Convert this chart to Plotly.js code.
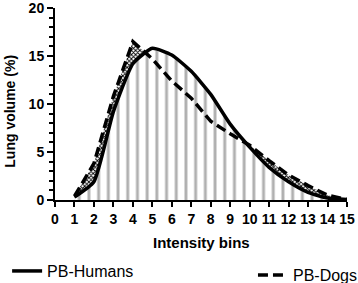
<!DOCTYPE html>
<html>
<head>
<meta charset="utf-8">
<script src="https://cdn.plot.ly/plotly-3.0.1.min.js"></script>
<style>html,body{margin:0;padding:0;background:#fff;}#chart{width:358px;height:283px;}</style>
</head>
<body>
<div id="chart"></div>
<script>
// Data
var bins = [1, 2, 3, 4, 5, 6, 7, 8, 9, 10, 11, 12, 13, 14, 15];
var humans = [0.3, 1.9, 9.2, 14.2, 15.8, 15.1, 13.4, 11.0, 7.9, 5.5, 3.4, 1.9, 0.8, 0.2, 0.05];
var dogs = [0.4, 3.8, 10.8, 16.5, 14.7, 12.4, 10.6, 8.2, 6.9, 5.7, 4.1, 2.6, 1.5, 0.5, 0.05];
var xTicks = [0, 1, 2, 3, 4, 5, 6, 7, 8, 9, 10, 11, 12, 13, 14, 15];
var yTicks = [0, 5, 10, 15, 20];
var seriesNames = ['PB-Humans', 'PB-Dogs'];

var FONT = 'Arial, "Liberation Sans", Helvetica, sans-serif';

var traces = [
  { x: bins, y: dogs, mode: 'none', fill: 'tozeroy', showlegend: false, hoverinfo: 'skip',
    fillcolor: 'white',
    fillpattern: { shape: 'x', size: 3, solidity: 0.5, fgcolor: '#000000', bgcolor: '#ffffff', fillmode: 'replace' } },
  { x: bins, y: humans, mode: 'none', fill: 'tozeroy', showlegend: false, hoverinfo: 'skip',
    fillcolor: 'white', line: { shape: 'spline', smoothing: 0.5 },
    fillpattern: { shape: '|', size: 9.7, solidity: 0.3, fgcolor: '#b0b0b0', bgcolor: '#ffffff', fillmode: 'replace' } },
  { x: bins, y: humans, mode: 'lines', name: seriesNames[0], legend: 'legend',
    line: { color: '#000000', width: 3.5, shape: 'spline', smoothing: 0.5 } },
  { x: bins, y: dogs, mode: 'lines', name: seriesNames[1], legend: 'legend2',
    line: { color: '#000000', width: 3.5, dash: '10px,5px' } }
];

var layout = {
  width: 358, height: 283,
  margin: { l: 55, r: 11, t: 8, b: 83, pad: 0, autoexpand: false },
  paper_bgcolor: '#ffffff', plot_bgcolor: '#ffffff',
  font: { family: FONT, color: '#000000' },
  showlegend: true,
  xaxis: {
    range: [0, 15], tickvals: xTicks, ticktext: xTicks.map(String),
    ticks: 'outside', ticklen: 5, tickwidth: 2, tickcolor: '#000',
    showline: true, linewidth: 2, linecolor: '#000',
    showgrid: false, zeroline: false, automargin: false, ticklabeloverflow: 'allow',
    tickfont: { family: FONT, size: 14, weight: 'bold', color: '#000' }
  },
  yaxis: {
    range: [0, 20], tickvals: yTicks, ticktext: yTicks.map(String),
    ticks: 'outside', ticklen: 6, tickwidth: 2, tickcolor: '#000',
    minor: { dtick: 1, ticks: 'outside', ticklen: 4, tickwidth: 2, tickcolor: '#000', showgrid: false },
    showline: true, linewidth: 2, linecolor: '#000',
    showgrid: false, zeroline: false, automargin: false, ticklabeloverflow: 'allow',
    tickfont: { family: FONT, size: 14, weight: 'bold', color: '#000' }
  },
  legend: {
    x: -0.164, xanchor: 'left', y: -0.37, yanchor: 'middle',
    orientation: 'h', bgcolor: 'rgba(0,0,0,0)',
    font: { family: FONT, size: 16, color: '#000' }
  },
  legend2: {
    x: 0.678, xanchor: 'left', y: -0.391, yanchor: 'middle',
    orientation: 'h', bgcolor: 'rgba(0,0,0,0)',
    font: { family: FONT, size: 16, color: '#000' }
  },
  annotations: [
    { text: 'Lung volume (%)', xref: 'paper', yref: 'paper', x: -0.154, y: 0.46,
      xanchor: 'center', yanchor: 'middle', textangle: -90, showarrow: false,
      font: { family: FONT, size: 14, weight: 'bold', color: '#000' } },
    { text: 'Intensity bins', xref: 'paper', yref: 'paper', x: 0.5, y: -0.221,
      xanchor: 'center', yanchor: 'middle', showarrow: false,
      font: { family: FONT, size: 15, weight: 'bold', color: '#000' } }
  ]
};

Plotly.newPlot('chart', traces, layout, { displayModeBar: false, staticPlot: true });
</script>
</body>
</html>
